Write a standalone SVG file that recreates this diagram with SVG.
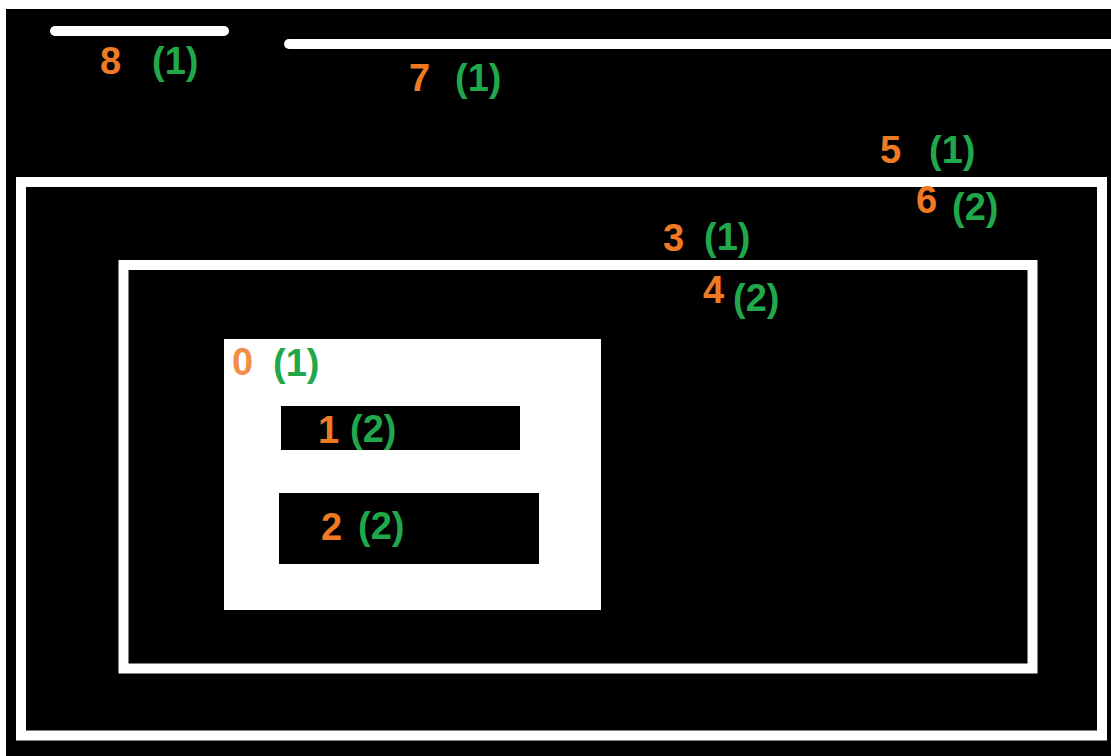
<svg xmlns="http://www.w3.org/2000/svg" width="1111" height="756" viewBox="0 0 1111 756">
<style>
.o{fill:#F07A24;font-family:"Liberation Sans",Arial,sans-serif;font-weight:bold;font-size:38px}
.g{fill:#21A84A;font-family:"Liberation Sans",Arial,sans-serif;font-weight:bold;font-size:38px}
.frame{fill:none;stroke:#fff;stroke-width:10}
.bar{stroke:#fff;stroke-width:10;stroke-linecap:round}
</style>
<rect x="0" y="0" width="1111" height="756" fill="#fff"/>
<rect x="6" y="9" width="1105" height="747" fill="#000"/>
<g id="node8"><line class="bar" x1="55" y1="31" x2="224" y2="31"/><text class="o" x="100" y="74">8</text><text class="g" x="152" y="74">(1)</text></g>
<g id="node7"><line class="bar" x1="289" y1="44" x2="1116" y2="44"/><text class="o" x="409" y="91">7</text><text class="g" x="455" y="91">(1)</text></g>
<g id="node5"><rect class="frame" x="21" y="182" width="1081" height="553.5"/><text class="o" x="880" y="163">5</text><text class="g" x="929" y="163">(1)</text><text class="o" x="916" y="213">6</text><text class="g" x="952" y="220">(2)</text></g>
<g id="node3"><rect class="frame" x="123.5" y="265" width="909" height="403.5"/><text class="o" x="663" y="251">3</text><text class="g" x="704" y="250">(1)</text><text class="o" x="703" y="303">4</text><text class="g" x="733" y="311">(2)</text></g>
<g id="node0"><rect x="224" y="339" width="377" height="271" fill="#fff"/><text class="o" x="232" y="375" fill-opacity="0.85">0</text><text class="g" x="273" y="376">(1)</text></g>
<g id="node1"><rect x="281" y="406" width="239" height="44" fill="#000"/><text class="o" x="318" y="443">1</text><text class="g" x="350" y="442">(2)</text></g>
<g id="node2"><rect x="279" y="493" width="260" height="71" fill="#000"/><text class="o" x="321" y="540">2</text><text class="g" x="358" y="539">(2)</text></g>
<g id="connectors"/>
</svg>
